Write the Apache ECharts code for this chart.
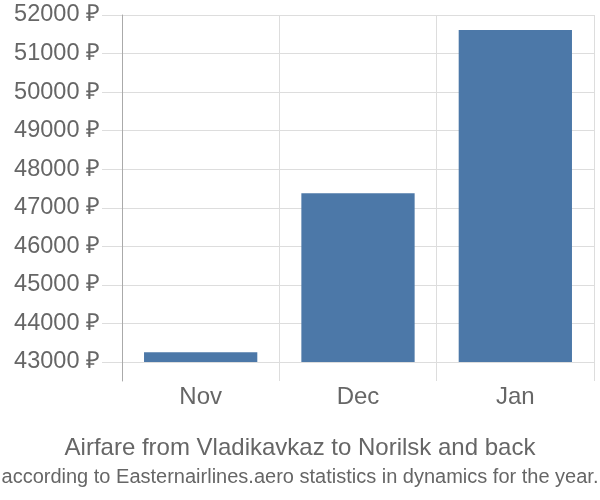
<!DOCTYPE html>
<html><head><meta charset="utf-8">
<script src="https://cdn.jsdelivr.net/npm/echarts@6/dist/echarts.min.js"></script>
<style>html,body{margin:0;padding:0;background:#fff}#c{width:600px;height:500px}</style>
</head><body><div id="c"></div>
<script>
const categories = ['Nov', 'Dec', 'Jan'];
const prices = [43250, 47380, 51610];
const yMin = 43000, yMax = 52000, yStep = 1000;
const titleText = 'Airfare from Vladikavkaz to Norilsk and back';
const subtitleText = 'according to Easternairlines.aero statistics in dynamics for the year.';

const chart = echarts.init(document.getElementById('c'), null, {renderer: 'canvas'});
const font = 'Liberation Sans, Arial, sans-serif';
chart.setOption({
  animation: false,
  title: [
    {text: titleText, left: 'center', top: 431, textStyle: {fontFamily: font, fontSize: 24, fontWeight: 'normal', color: '#666'}},
    {text: subtitleText, left: 'center', top: 462, textStyle: {fontFamily: 'Liberation Sans Narrow, Arial Narrow, sans-serif', fontSize: 20, fontWeight: 'normal', color: '#666'}}
  ],
  grid: [
    {left: 122, right: 6, top: 15, bottom: 138},
    {left: 122, right: 6, top: 15, bottom: 119}
  ],
  xAxis: [
    {gridIndex: 0, type: 'category', data: categories, show: false},
    {gridIndex: 1, type: 'category', data: categories,
     axisLine: {show: false}, axisTick: {show: false},
     splitLine: {show: true, lineStyle: {color: '#ddd', width: 1}},
     axisLabel: {margin: 4, fontFamily: font, fontSize: 24, color: '#666'}}
  ],
  yAxis: [
    {gridIndex: 0, type: 'value', min: yMin, max: yMax, interval: yStep,
     axisLine: {show: false},
     axisTick: {show: true, length: 20, lineStyle: {color: '#ddd'}},
     splitLine: {show: true, lineStyle: {color: '#ddd', width: 1}},
     axisLabel: {margin: 22, fontFamily: font, fontSize: 23.5, color: '#666', formatter: function (v) { return v + ' ₽'; }}},
    {gridIndex: 1, type: 'value', min: 0, max: 1,
     axisLine: {show: true, lineStyle: {color: '#aaa', width: 1}},
     axisTick: {show: false}, axisLabel: {show: false}, splitLine: {show: false}}
  ],
  series: [{
    type: 'bar', xAxisIndex: 0, yAxisIndex: 0, data: prices,
    barCategoryGap: '28%', itemStyle: {color: '#4c78a8'}
  }]
});
</script></body></html>
